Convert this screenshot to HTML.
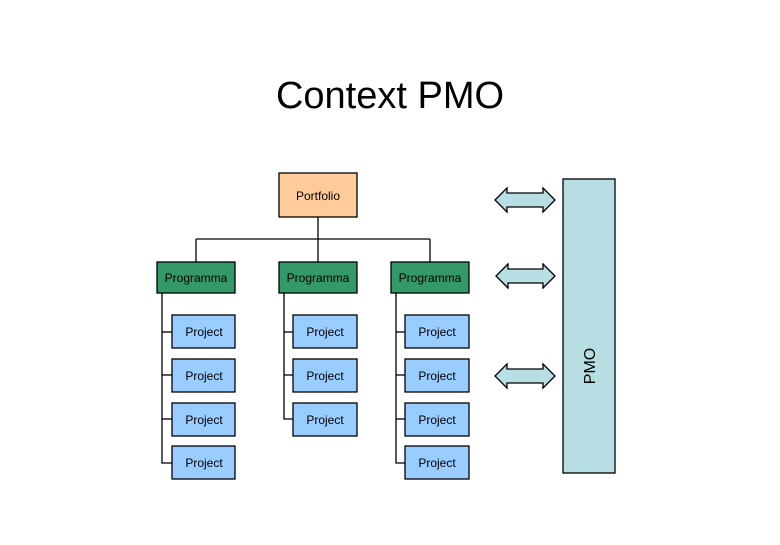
<!DOCTYPE html>
<html><head><style>
body{margin:0;background:#fff;}
</style></head><body>
<svg width="780" height="540" xmlns="http://www.w3.org/2000/svg" font-family="Liberation Sans, sans-serif">
<rect width="780" height="540" fill="#fff"/>
<text x="390" y="108" font-size="38" text-anchor="middle" fill="#000">Context PMO</text>
<g stroke="#000" stroke-width="1.3" fill="none">
<line x1="318" y1="217" x2="318" y2="262"/>
<line x1="196" y1="239" x2="430" y2="239"/>
<line x1="196" y1="239" x2="196" y2="262"/>
<line x1="430" y1="239" x2="430" y2="262"/>
<polyline points="162,293 162,463 172,463"/>
<line x1="162" y1="332" x2="172" y2="332"/><line x1="162" y1="375" x2="172" y2="375"/><line x1="162" y1="419" x2="172" y2="419"/>
<polyline points="284,293 284,419 293,419"/>
<line x1="284" y1="332" x2="293" y2="332"/><line x1="284" y1="375" x2="293" y2="375"/>
<polyline points="396,293 396,463 405,463"/>
<line x1="396" y1="332" x2="405" y2="332"/><line x1="396" y1="375" x2="405" y2="375"/><line x1="396" y1="419" x2="405" y2="419"/>
</g>
<g stroke="#000" stroke-width="1.3">
<rect x="279" y="173" width="78" height="44" fill="#ffcc99"/>
<rect x="157" y="262" width="78" height="31" fill="#339966"/>
<rect x="279" y="262" width="78" height="31" fill="#339966"/>
<rect x="391" y="262" width="78" height="31" fill="#339966"/>
<g fill="#99ccff">
<rect x="172" y="315" width="63" height="33"/><rect x="172" y="359" width="63" height="33"/><rect x="172" y="403" width="63" height="33"/><rect x="172" y="446" width="63" height="33"/>
<rect x="293" y="315" width="64" height="33"/><rect x="293" y="359" width="64" height="33"/><rect x="293" y="403" width="64" height="33"/>
<rect x="405" y="315" width="64" height="33"/><rect x="405" y="359" width="64" height="33"/><rect x="405" y="403" width="64" height="33"/><rect x="405" y="446" width="64" height="33"/>
</g>
<rect x="563" y="179" width="52" height="294" fill="#b7dfe3"/>
<g fill="#b7dfe3">
<polygon points="495,200 507,188 507,193 543,193 543,188 555,200 543,212 543,207 507,207 507,212"/>
<polygon points="496,276 508,264 508,269 543,269 543,264 555,276 543,288 543,283 508,283 508,288"/>
<polygon points="495,376 507,364 507,369 543,369 543,364 555,376 543,388 543,383 507,383 507,388"/>
</g>
</g>
<g font-size="12" text-anchor="middle" fill="#000">
<text x="318" y="200">Portfolio</text>
<text x="196" y="282">Programma</text><text x="318" y="282">Programma</text><text x="430" y="282">Programma</text>
<text x="204" y="336">Project</text><text x="204" y="380">Project</text><text x="204" y="424">Project</text><text x="204" y="467">Project</text>
<text x="325" y="336">Project</text><text x="325" y="380">Project</text><text x="325" y="424">Project</text>
<text x="437" y="336">Project</text><text x="437" y="380">Project</text><text x="437" y="424">Project</text><text x="437" y="467">Project</text>
</g>
<text x="0" y="0" font-size="16" text-anchor="middle" transform="translate(595,366) rotate(-90)" fill="#000">PMO</text>
</svg>
</body></html>
